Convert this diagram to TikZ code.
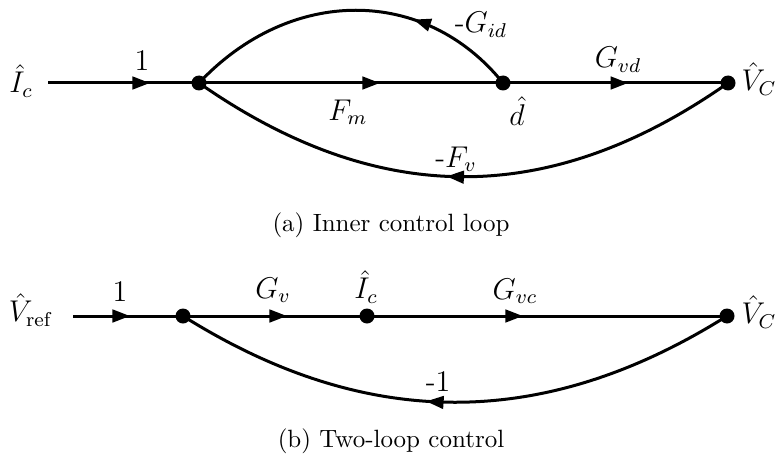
\documentclass[tikz,border=0pt]{standalone}
\usetikzlibrary{arrows.meta,decorations.markings}
\begin{document}
\begin{tikzpicture}[x=0.4pt,y=-0.4pt,
  dot/.style={circle,fill=black,inner sep=0pt,minimum size=6pt},
  edge/.style={line width=1.2pt},
  midarrow/.style={postaction={decorate},decoration={markings,mark=at position #1 with {\arrow{Triangle[length=7pt,width=5pt]}}}},
  lbl/.style={inner sep=0pt,font=\large}
]
\useasboundingbox (0,0) rectangle (777,459);
% ---------- (a) ----------
\coordinate (inA) at (48,83);
\node[dot] (a1) at (199,83) {};
\node[dot] (ad) at (503,83) {};
\node[dot] (aV) at (728,83) {};
\node[lbl] (aIc) at (21,81) {$\hat{I}_c$};
\node[lbl] (aVl) at (759,79) {$\hat{V}_C$};
\node[lbl] (adl) at (517,111) {$\hat{d}$};
\node[lbl] (la1) at (142,61) {$1$};
\node[lbl] (lFm) at (348,112) {$F_m$};
\node[lbl] (lGid) at (481,25) {-$G_{id}$};
\node[lbl] (lGvd) at (618,60) {$G_{vd}$};
\node[lbl] (lFv) at (456,159) {-$F_v$};
\draw[edge,midarrow=0.675] (inA) -- (a1.center);
\draw[edge,midarrow=0.595] (a1.center) -- (ad.center);
\draw[edge,midarrow=0.556] (ad.center) -- (aV.center);
\draw[edge,midarrow=0.32] (ad.center) .. controls (425,-14) and (290,-14) .. (a1.center);
\draw[edge,midarrow=0.53] (aV.center) .. controls (550,208) and (378,208) .. (a1.center);
\node (capa) at (391,225) {(a) Inner control loop};
% ---------- (b) ----------
\coordinate (inB) at (73,316);
\node[dot] (b1) at (183,316) {};
\node[dot] (bI) at (367,316) {};
\node[dot] (bV) at (727,316) {};
\node[lbl] (bVr) at (31,310) {$\hat{V}_{\mathrm{ref}}$};
\node[lbl] (bIl) at (366,287) {$\hat{I}_c$};
\node[lbl] (bVl) at (759,312) {$\hat{V}_C$};
\node[lbl] (lb1) at (120,292) {$1$};
\node[lbl] (lGv) at (273,290) {$G_v$};
\node[lbl] (lGvc) at (515,291) {$G_{vc}$};
\node[lbl] (lm1) at (438,382) {-1};
\draw[edge,midarrow=0.518] (inB) -- (b1.center);
\draw[edge,midarrow=0.565] (b1.center) -- (bI.center);
\draw[edge,midarrow=0.433] (bI.center) -- (bV.center);
\draw[edge,midarrow=0.55] (bV.center) .. controls (544,431) and (366,431) .. (b1.center);
\node (capb) at (391,441) {(b) Two-loop control};
\end{tikzpicture}
\end{document}
